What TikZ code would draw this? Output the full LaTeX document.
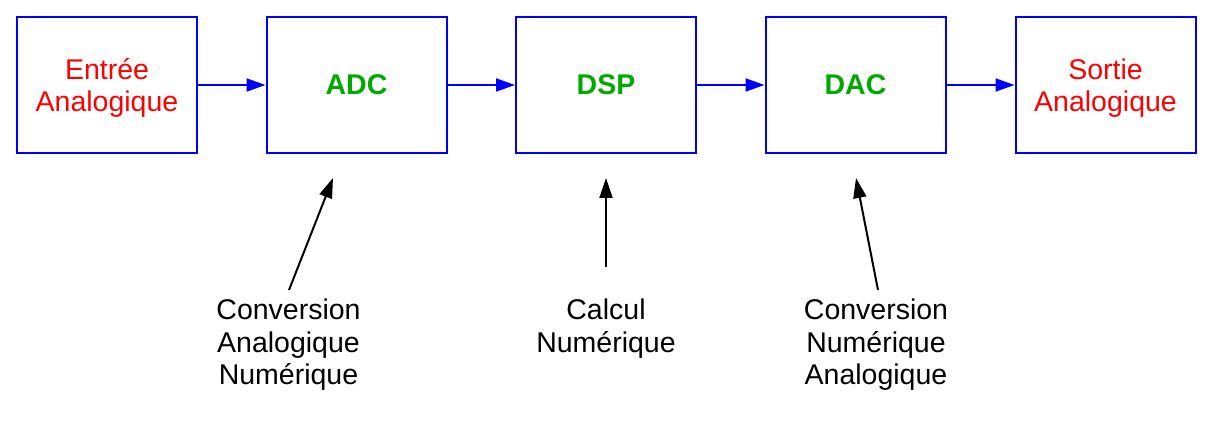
\documentclass[tikz,border=0pt]{standalone}
\usepackage{fontspec}
\setmainfont{Liberation Sans}
\usetikzlibrary{arrows.meta}
\definecolor{bblue}{RGB}{0,0,255}
\definecolor{rred}{RGB}{255,0,0}
\definecolor{ggreen}{RGB}{0,170,0}
\begin{document}
\begin{tikzpicture}[x=1pt,y=-1pt,
  blk/.style={draw=bblue,line width=2pt,minimum width=180pt,minimum height=136pt,inner sep=0pt,align=center,font=\fontsize{28.5}{32.5}\selectfont},
  iotext/.style={text=rred,align=center,inner sep=0pt,font=\fontsize{28.5}{32.5}\selectfont},
  proc/.style={blk,text=ggreen,font=\fontsize{28.5}{32.5}\selectfont\bfseries},
  flow/.style={draw=bblue,line width=2pt,-{Triangle[length=19pt,width=13pt]}},
  note/.style={draw=black,line width=2pt,-{Triangle[length=20pt,width=13pt]}},
  lbl/.style={align=center,inner sep=0pt,font=\fontsize{28.5}{32.5}\selectfont}]
\useasboundingbox (0,0) rectangle (1222,430);
\node[blk]  (in)  at (107,85)    {};
\node[proc] (adc) at (356.5,85)  {ADC};
\node[proc] (dsp) at (606,85)    {DSP};
\node[proc] (dac) at (855.5,85)  {DAC};
\node[blk]  (out) at (1105.5,85) {};
\node[iotext] (intext)  at (107,88)    {Entrée\\Analogique};
\node[iotext] (outtext) at (1105.5,88) {Sortie\\Analogique};
\draw[flow] (in) -- (adc);
\draw[flow] (adc) -- (dsp);
\draw[flow] (dsp) -- (dac);
\draw[flow] (dac) -- (out);
\node[lbl,anchor=north] (l1) at (288.5,299) {Conversion\\Analogique\\Numérique};
\node[lbl,anchor=north] (l2) at (606,299) {Calcul\\Numérique};
\node[lbl,anchor=north] (l3) at (876,299) {Conversion\\Numérique\\Analogique};
\coordinate (t1) at (289,290);
\coordinate (h1) at (333,178);
\coordinate (t2) at (606,267);
\coordinate (h2) at (606,178);
\coordinate (t3) at (878,290);
\coordinate (h3) at (856,178);
\draw[note] (t1) -- (h1);
\draw[note] (t2) -- (h2);
\draw[note] (t3) -- (h3);
\end{tikzpicture}
\end{document}
